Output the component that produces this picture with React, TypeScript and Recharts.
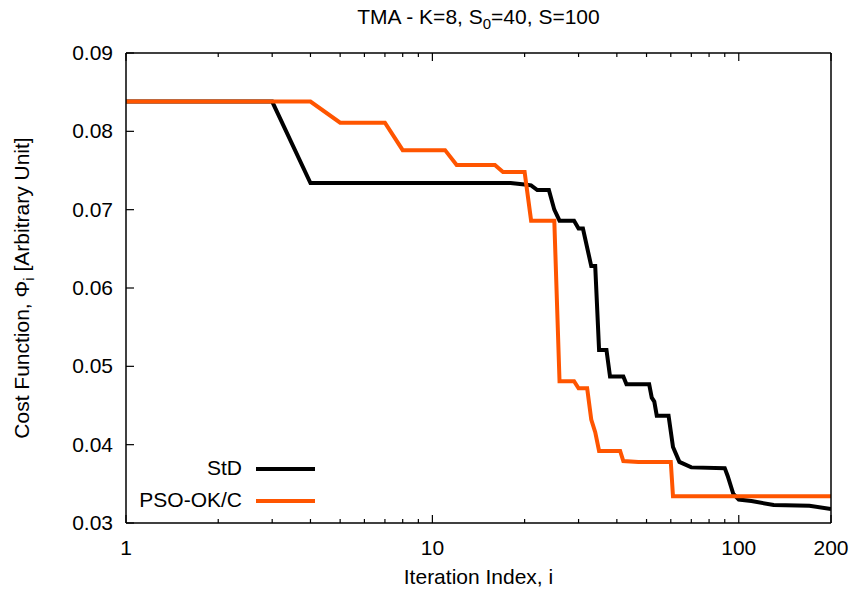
import { LineChart, Line, XAxis, YAxis } from "recharts";

// iteration index (log axis) and cost values
const stdIter = [1, 3, 4, 18, 20, 21, 22, 24, 25, 26, 29, 30, 31, 33, 34, 35, 37, 38, 42, 43, 51, 52, 53, 54, 59, 61, 64, 70, 90, 92, 96, 100, 110, 130, 170, 200];
const stdCost = [0.0838, 0.0838, 0.0734, 0.0734, 0.0732, 0.0731, 0.0725, 0.0725, 0.07, 0.0686, 0.0686, 0.0676, 0.0676, 0.0628, 0.0628, 0.0521, 0.0521, 0.0487, 0.0487, 0.0477, 0.0477, 0.046, 0.0455, 0.0437, 0.0437, 0.0397, 0.0378, 0.0371, 0.037, 0.036, 0.0337, 0.033, 0.0328, 0.0323, 0.0322, 0.0318];

const psoIter = [1, 4, 5, 7, 8, 11, 12, 16, 17, 20, 21, 25, 26, 29, 30, 32, 33, 34, 35, 41, 42, 47, 60, 61, 200];
const psoCost = [0.0838, 0.0838, 0.0811, 0.0811, 0.0776, 0.0776, 0.0757, 0.0757, 0.0748, 0.0748, 0.0686, 0.0686, 0.0481, 0.0481, 0.0472, 0.0472, 0.0432, 0.0416, 0.0392, 0.0392, 0.0379, 0.0378, 0.0378, 0.0334, 0.0334];

const xMajor = [1, 10, 100, 200];
const xMinor = [2, 3, 4, 5, 6, 7, 8, 9, 20, 30, 40, 50, 60, 70, 80, 90];
const xTicks = [...xMajor, ...xMinor].sort((a, b) => a - b);
const yTicks = [0.03, 0.04, 0.05, 0.06, 0.07, 0.08, 0.09];

const stdData = stdIter.map((i, k) => ({ i, cost: stdCost[k] }));
const psoData = psoIter.map((i, k) => ({ i, cost: psoCost[k] }));

const font = '"Liberation Sans", Arial, Helvetica, sans-serif';
const orange = "#ff5500";
const fs = 21;

function BottomTick({ x, y, payload }: any) {
  const major = xMajor.includes(payload.value);
  return (
    <g>
      <line x1={x} x2={x} y1={y} y2={y - (major ? 8 : 4)} stroke="#000" strokeWidth={1.2} />
      {major && (
        <text x={x} y={y + 32} textAnchor="middle" fontSize={fs} fontFamily={font} fill="#000">
          {payload.value}
        </text>
      )}
    </g>
  );
}

function TopTick({ x, y, payload }: any) {
  const major = xMajor.includes(payload.value);
  return <line x1={x} x2={x} y1={y} y2={y + (major ? 8 : 4)} stroke="#000" strokeWidth={1.2} />;
}

function LeftTick({ x, y, payload }: any) {
  return (
    <g>
      <line x1={x} x2={x + 8} y1={y} y2={y} stroke="#000" strokeWidth={1.2} />
      <text x={x - 13} y={y + 7} textAnchor="end" fontSize={fs} fontFamily={font} fill="#000">
        {payload.value.toFixed(2)}
      </text>
    </g>
  );
}

function RightTick({ x, y }: any) {
  return <line x1={x} x2={x - 8} y1={y} y2={y} stroke="#000" strokeWidth={1.2} />;
}

const axisLine = { stroke: "#000", strokeWidth: 1.5 };

export default function App() {
  return (
    <div style={{ position: "absolute", left: 0, top: 0, width: 854, height: 595, background: "#fff", fontFamily: font, color: "#000" }}>
      <LineChart width={854} height={595} margin={{ top: 52, right: 22, bottom: 71, left: 125 }}>
        <XAxis
          xAxisId="b"
          dataKey="i"
          type="number"
          scale="log"
          domain={[1, 200]}
          allowDataOverflow
          ticks={xTicks}
          interval={0}
          height={1}
          tickSize={0}
          tickMargin={0}
          tickLine={false}
          axisLine={axisLine}
          tick={<BottomTick />}
        />
        <XAxis
          xAxisId="t"
          orientation="top"
          dataKey="i"
          type="number"
          scale="log"
          domain={[1, 200]}
          allowDataOverflow
          ticks={xTicks}
          interval={0}
          height={1}
          tickSize={0}
          tickMargin={0}
          tickLine={false}
          axisLine={axisLine}
          tick={<TopTick />}
        />
        <YAxis
          yAxisId="l"
          type="number"
          domain={[0.03, 0.09]}
          ticks={yTicks}
          interval={0}
          width={1}
          tickSize={0}
          tickMargin={0}
          tickLine={false}
          axisLine={axisLine}
          tick={<LeftTick />}
        />
        <YAxis
          yAxisId="r"
          orientation="right"
          type="number"
          domain={[0.03, 0.09]}
          ticks={yTicks}
          interval={0}
          width={1}
          tickSize={0}
          tickMargin={0}
          tickLine={false}
          axisLine={axisLine}
          tick={<RightTick />}
        />
        <Line
          xAxisId="b"
          yAxisId="l"
          data={stdData}
          dataKey="cost"
          name="StD"
          type="linear"
          stroke="#000"
          strokeWidth={4}
          dot={false}
          isAnimationActive={false}
        />
        <Line
          xAxisId="b"
          yAxisId="l"
          data={psoData}
          dataKey="cost"
          name="PSO-OK/C"
          type="linear"
          stroke={orange}
          strokeWidth={4}
          dot={false}
          isAnimationActive={false}
        />
      </LineChart>

      <div style={{ position: "absolute", left: 126, width: 705, top: 6, fontSize: fs, lineHeight: "22px", textAlign: "center" }}>
        TMA - K=8, S<sub style={{ fontSize: 15, verticalAlign: "-5px", lineHeight: 0 }}>0</sub>=40, S=100
      </div>
      <div style={{ position: "absolute", left: 126, width: 705, top: 566, fontSize: fs, lineHeight: "22px", textAlign: "center" }}>
        Iteration Index, i
      </div>
      <div
        style={{
          position: "absolute",
          left: 22 - 250,
          top: 288 - 11,
          width: 500,
          fontSize: fs,
          lineHeight: "22px",
          textAlign: "center",
          transform: "rotate(-90deg)",
        }}
      >
        Cost Function, Φ<sub style={{ fontSize: 15, verticalAlign: "-5px", lineHeight: 0 }}>i</sub> [Arbitrary Unit]
      </div>

      <div style={{ position: "absolute", left: 92, width: 150, top: 457, fontSize: fs, lineHeight: "22px", textAlign: "right" }}>StD</div>
      <div style={{ position: "absolute", left: 256, top: 467, width: 59, height: 4, background: "#000" }} />
      <div style={{ position: "absolute", left: 92, width: 150, top: 489, fontSize: fs, lineHeight: "22px", textAlign: "right" }}>PSO-OK/C</div>
      <div style={{ position: "absolute", left: 256, top: 499, width: 59, height: 4, background: orange }} />
    </div>
  );
}
